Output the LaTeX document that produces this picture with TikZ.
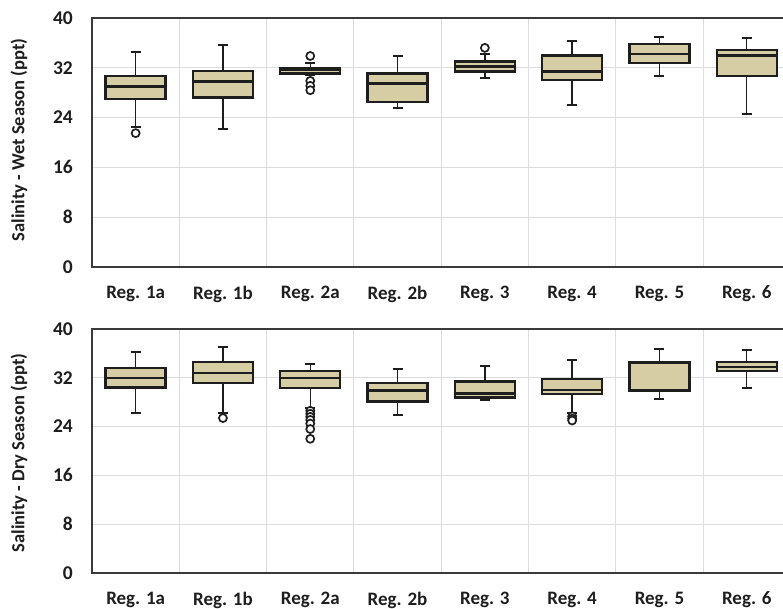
\documentclass[tikz,border=0pt]{standalone}
\usepackage{fontspec}
\setmainfont{Carlito}
\definecolor{boxfill}{HTML}{D6CDA4}
\definecolor{ink}{HTML}{1E1E1E}
\definecolor{gridc}{HTML}{DCDCDC}
\definecolor{framec}{HTML}{3A3A3A}
\tikzset{
  boxst/.style={fill=boxfill,draw=ink,line width=2.4pt},
  whisk/.style={draw=ink,line width=1.4pt},
  capst/.style={draw=ink,line width=2pt},
  medst/.style={draw=ink,line width=2.4pt},
  outst/.style={draw=ink,line width=1.7pt,fill=white},
  gridst/.style={draw=gridc,line width=1.3pt},
  framest/.style={draw=framec,line width=2.2pt},
  ticklab/.style={font=\fontsize{19.5}{22}\selectfont\bfseries,text=ink,anchor=east,inner sep=0pt},
  catlab/.style={font=\fontsize{19}{22}\selectfont\bfseries,text=ink,inner sep=0pt},
  ytitle/.style={font=\fontsize{18.5}{22}\selectfont\bfseries,text=ink,rotate=90,inner sep=0pt},
}
% #1 base y of value 0, #2 px per unit, #3 centre x, #4 low, #5 q1, #6 median, #7 q3, #8 high
\newcommand\bxp[8]{%
  \pgfmathsetmacro\ylo{#1-#4*#2}%
  \pgfmathsetmacro\yqa{#1-#5*#2}%
  \pgfmathsetmacro\ymd{#1-#6*#2}%
  \pgfmathsetmacro\yqb{#1-#7*#2}%
  \pgfmathsetmacro\yhi{#1-#8*#2}%
  \draw[whisk] (#3,\ylo) -- (#3,\yqa);
  \draw[whisk] (#3,\yqb) -- (#3,\yhi);
  \draw[capst] (#3-5,\ylo) -- (#3+5,\ylo);
  \draw[capst] (#3-5,\yhi) -- (#3+5,\yhi);
  \draw[boxst] (#3-30,\yqa) rectangle (#3+30,\yqb);
  \draw[medst] (#3-30,\ymd) -- (#3+30,\ymd);
}
\newcommand\outl[4]{%
  \pgfmathsetmacro\yot{#1-#4*#2}%
  \draw[outst] (#3,\yot) circle (4);
}
\begin{document}
\begin{tikzpicture}[x=1pt,y=-1pt]
\useasboundingbox (0,0) rectangle (783,609);
\fill[white] (0,0) rectangle (783,609);
% ================= TOP PANEL (wet) =================
\foreach \v in {8,16,24,32} {\draw[gridst] (92,{267-\v*6.225}) -- (783,{267-\v*6.225});}
\foreach \i in {1,...,7} {\draw[gridst,line width=1pt] ({92+87.3*\i},18) -- ({92+87.3*\i},267);}
\draw[framest] (783,18) -- (92,18) -- (92,267) -- (783,267);
\foreach \v/\nm in {0/ta,8/tb,16/tc,24/td,32/te,40/tf} {\node[ticklab] (wt\nm) at (73,{267-\v*6.225}) {\v};}
\node[ytitle] (wtitle) at (19,140) {Salinity - Wet Season (ppt)};
\foreach \lab [count=\i] in {Reg. 1a,Reg. 1b,Reg. 2a,Reg. 2b,Reg. 3,Reg. 4,Reg. 5,Reg. 6}
  {\node[catlab] (wc\i) at ({92+87.3*(\i-0.5)},294) {\lab};}
% boxes
\bxp{267}{6.225}{135.65}{22.5}{27.0}{29.0}{30.7}{34.5}
\outl{267}{6.225}{135.65}{21.5}
\bxp{267}{6.225}{222.95}{22.2}{27.2}{29.8}{31.5}{35.7}
\bxp{267}{6.225}{310.25}{30.9}{31.1}{31.6}{32.0}{32.7}
\outl{267}{6.225}{310.25}{33.9}
\outl{267}{6.225}{310.25}{29.9}
\outl{267}{6.225}{310.25}{29.1}
\outl{267}{6.225}{310.25}{28.4}
\bxp{267}{6.225}{397.55}{25.6}{26.5}{29.5}{31.1}{33.9}
\bxp{267}{6.225}{484.85}{30.4}{31.4}{32.2}{33.0}{34.2}
\outl{267}{6.225}{484.85}{35.2}
\bxp{267}{6.225}{572.15}{26.0}{30.0}{31.4}{34.0}{36.3}
\bxp{267}{6.225}{659.45}{30.7}{32.8}{34.2}{35.8}{37.0}
\bxp{267}{6.225}{746.75}{24.5}{30.7}{34.0}{34.9}{36.8}
% ================= BOTTOM PANEL (dry) =================
\foreach \v in {8,16,24,32} {\draw[gridst] (92,{573-\v*6.1}) -- (783,{573-\v*6.1});}
\foreach \i in {1,...,7} {\draw[gridst,line width=1pt] ({92+87.3*\i},329) -- ({92+87.3*\i},573);}
\draw[framest] (783,329) -- (92,329) -- (92,573) -- (783,573);
\foreach \v/\nm in {0/ta,8/tb,16/tc,24/td,32/te,40/tf} {\node[ticklab] (dt\nm) at (73,{573-\v*6.1}) {\v};}
\node[ytitle] (dtitle) at (19,453) {Salinity - Dry Season (ppt)};
\foreach \lab [count=\i] in {Reg. 1a,Reg. 1b,Reg. 2a,Reg. 2b,Reg. 3,Reg. 4,Reg. 5,Reg. 6}
  {\node[catlab] (dc\i) at ({92+87.3*(\i-0.5)},600) {\lab};}
\bxp{573}{6.1}{135.65}{26.2}{30.4}{32.0}{33.6}{36.3}
\bxp{573}{6.1}{222.95}{26.3}{31.1}{32.8}{34.6}{37.1}
\outl{573}{6.1}{222.95}{25.4}
\bxp{573}{6.1}{310.25}{27.0}{30.3}{32.0}{33.1}{34.3}
\foreach \o in {26.6,26.1,25.6,25.1,24.5,23.6,22.0} {\outl{573}{6.1}{310.25}{\o}}
\bxp{573}{6.1}{397.55}{25.9}{28.1}{29.9}{31.1}{33.4}
\bxp{573}{6.1}{484.85}{28.4}{28.8}{29.4}{31.4}{33.9}
\bxp{573}{6.1}{572.15}{26.2}{29.3}{30.0}{31.8}{34.9}
\foreach \o in {25.7,25.3,25.0} {\outl{573}{6.1}{572.15}{\o}}
\bxp{573}{6.1}{659.45}{28.6}{29.9}{34.4}{34.5}{36.8}
\bxp{573}{6.1}{746.75}{30.4}{33.1}{33.8}{34.6}{36.5}
\end{tikzpicture}
\end{document}
